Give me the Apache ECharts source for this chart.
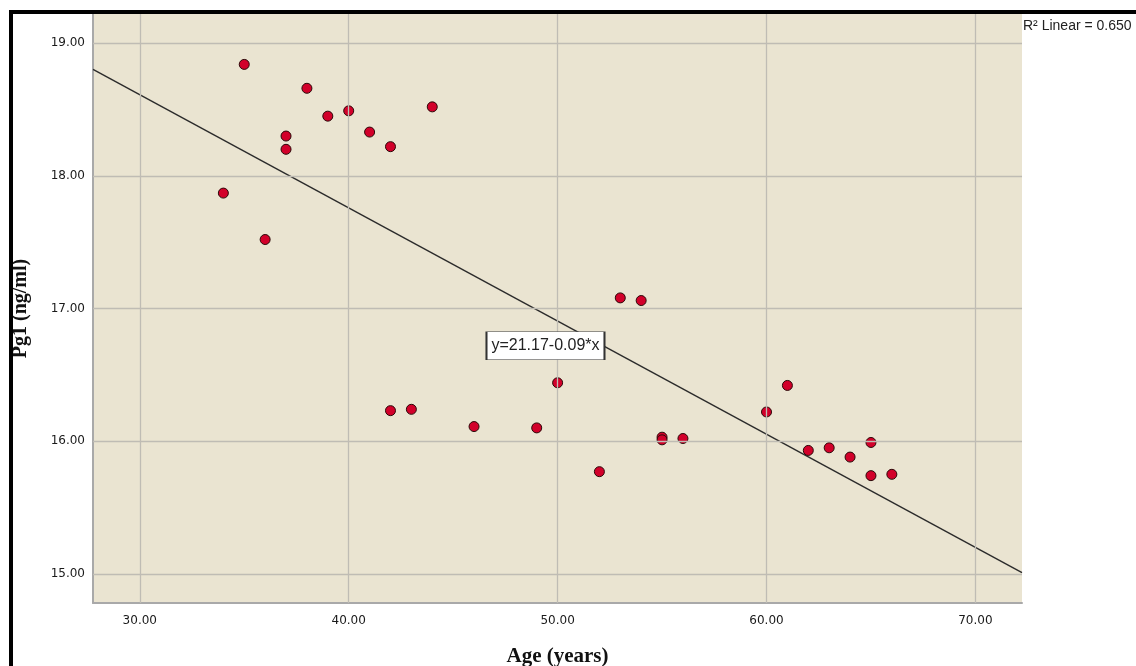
<!DOCTYPE html>
<html>
<head>
<meta charset="utf-8">
<script src="https://cdn.jsdelivr.net/npm/echarts@6/dist/echarts.min.js"></script>
<style>
  html, body { margin: 0; padding: 0; background: #ffffff; }
  #chart { width: 1136px; height: 666px; }
</style>
</head>
<body>
<div id="chart"></div>
<script>
// ---- data ----
const ages = [34, 35, 36, 37, 37, 38, 39, 40, 41, 42, 44,
              42, 43, 46, 49, 50, 52, 53, 54, 55, 55, 56,
              60, 61, 62, 63, 64, 65, 65, 66];
const pg1  = [17.87, 18.84, 17.52, 18.30, 18.20, 18.66, 18.45, 18.49, 18.33, 18.22, 18.52,
              16.23, 16.24, 16.11, 16.10, 16.44, 15.77, 17.08, 17.06, 16.03, 16.01, 16.02,
              16.22, 16.42, 15.93, 15.95, 15.88, 15.99, 15.74, 15.75];
const xTicks = [30, 40, 50, 60, 70];
const yTicks = [15, 16, 17, 18, 19];
const xRange = [27.76, 72.23];
const yRange = [14.78, 19.22];
const fitIntercept = 21.17;
const fitSlope = -0.0853;
const equationText = 'y=21.17-0.09*x';
const equationAt = [49.42, 16.72];
const r2Text = 'R\u00B2 Linear = 0.650';
const xTitle = 'Age (years)';
const yTitle = 'Pg1 (ng/ml)';

const points = ages.map((a, i) => [a, pg1[i]]);
const fitLine = xRange.map(x => [x, fitIntercept + fitSlope * x]);

const chart = echarts.init(document.getElementById('chart'), null, { renderer: 'canvas' });
const tickFont = { fontFamily: 'DejaVu Sans', fontSize: 12, color: '#1a1a1a' };
const gridStyle = { color: '#bfbcb4', width: 1.3, type: 'solid' };

chart.setOption({
  animation: false,
  backgroundColor: '#ffffff',
  grid: { left: 93, top: 14, width: 929, height: 589, show: true, backgroundColor: '#EAE4D1', borderWidth: 0,
          containLabel: false, outerBoundsMode: 'none' },
  xAxis: {
    type: 'value', min: xRange[0], max: xRange[1],
    name: xTitle, nameLocation: 'middle', nameGap: 43,
    nameTextStyle: { fontFamily: 'Liberation Serif', fontWeight: 'bold', fontSize: 21, color: '#111' },
    axisLine: { show: true, onZero: false, lineStyle: { color: '#a9a9a9', width: 2 } },
    axisTick: { show: false },
    splitLine: { show: false },
    axisLabel: { ...tickFont, margin: 12, customValues: xTicks, formatter: v => v.toFixed(2) }
  },
  yAxis: {
    type: 'value', min: yRange[0], max: yRange[1],
    name: yTitle, nameLocation: 'middle', nameGap: 62, nameRotate: 90,
    nameTextStyle: { fontFamily: 'Liberation Serif', fontWeight: 'bold', fontSize: 20, color: '#111' },
    axisLine: { show: true, onZero: false, lineStyle: { color: '#a9a9a9', width: 2 } },
    axisTick: { show: false },
    splitLine: { show: false },
    axisLabel: { ...tickFont, margin: 8, customValues: yTicks, formatter: v => v.toFixed(2) }
  },
  graphic: [
    { type: 'line', shape: { x1: 11, y1: 12, x2: 1136, y2: 12 }, style: { stroke: '#000', lineWidth: 4 }, z: 100 },
    { type: 'line', shape: { x1: 11, y1: 10, x2: 11, y2: 666 }, style: { stroke: '#000', lineWidth: 4 }, z: 100 },
    { type: 'text', left: 1023, top: 19, style: { text: r2Text, font: '14px "Liberation Sans"', fill: '#222' }, z: 100 }
  ],
  series: [
    {
      type: 'line', data: [], silent: true, z: 1,
      markLine: {
        silent: true, symbol: 'none', animation: false,
        label: { show: false },
        lineStyle: gridStyle,
        data: xTicks.map(v => ({ xAxis: v })).concat(yTicks.map(v => ({ yAxis: v })))
      }
    },
    {
      type: 'line', data: fitLine, showSymbol: false, silent: true, z: 2,
      lineStyle: { color: '#2b2b2b', width: 1.4 },
      markPoint: {
        silent: true, animation: false,
        symbol: 'rect', symbolSize: [118, 28],
        itemStyle: { color: '#ffffff', borderColor: '#333', borderWidth: 1 },
        label: { show: true, position: 'inside', formatter: equationText,
                 fontFamily: 'Liberation Sans', fontSize: 16, color: '#222' },
        data: [{ coord: equationAt }]
      }
    },
    {
      type: 'scatter', data: points, z: 3,
      symbol: 'circle', symbolSize: 10,
      itemStyle: { color: '#D2002A', borderColor: '#2a0808', borderWidth: 1, opacity: 1 }
    }
  ]
});
</script>
</body>
</html>
